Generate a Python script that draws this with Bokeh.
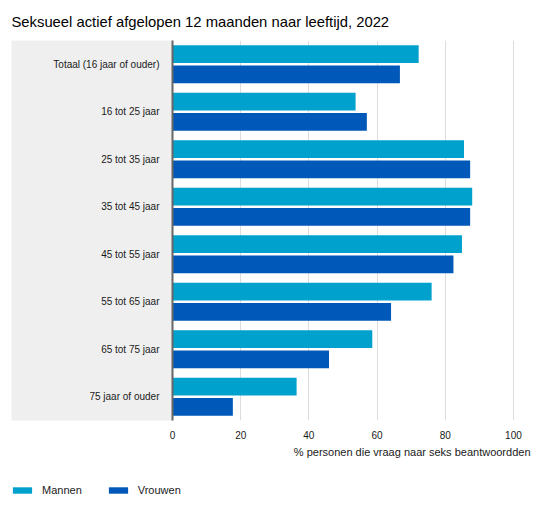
from bokeh.plotting import figure
from bokeh.layouts import column
from bokeh.models import (FactorRange, Range1d, FixedTicker, Title,
                          Legend, LegendItem, ColumnDataSource)
from bokeh.transform import dodge
from bokeh.embed import file_html
from bokeh.resources import INLINE

categories = ["Totaal (16 jaar of ouder)", "16 tot 25 jaar", "25 tot 35 jaar",
              "35 tot 45 jaar", "45 tot 55 jaar", "55 tot 65 jaar",
              "65 tot 75 jaar", "75 jaar of ouder"]
mannen = [72.2, 53.7, 85.5, 87.9, 84.9, 76.0, 58.6, 36.4]
vrouwen = [66.7, 57.0, 87.3, 87.3, 82.4, 64.1, 45.9, 17.7]
x_ticks = [0, 20, 40, 60, 80, 100]
series_names = ["Mannen", "Vrouwen"]
title_text = "Seksueel actief afgelopen 12 maanden naar leeftijd, 2022"
x_label = "% personen die vraag naar seks beantwoordden"

FONT = "Liberation Sans"
C_M = "#00a1cd"
C_V = "#0058b8"
PANEL = "#efefef"

src = ColumnDataSource(dict(cat=categories, m=mannen, v=vrouwen))

p = figure(frame_width=358, frame_height=380,
           y_range=FactorRange(factors=list(reversed(categories)), range_padding=0),
           x_range=Range1d(0, 105),
           output_backend="svg", toolbar_location=None,
           min_border_left=172, min_border_right=20,
           min_border_top=40, min_border_bottom=50,
           title=title_text)
p.outline_line_color = None
p.background_fill_color = "white"
p.border_fill_color = "white"

p.title.text_font = FONT
p.title.text_font_size = "14.8px"
p.title.text_font_style = "normal"
p.title.text_color = "#000000"
p.title.align = "left"
p.title.offset = -161
p.title.standoff = 21

r1 = p.hbar(y=dodge("cat", 0.215, range=p.y_range), right="m", left=0,
            height=0.375, source=src, fill_color=C_M, line_color=None)
r2 = p.hbar(y=dodge("cat", -0.215, range=p.y_range), right="v", left=0,
            height=0.375, source=src, fill_color=C_V, line_color=None)

# x axis
p.xaxis.ticker = FixedTicker(ticks=x_ticks)
p.xaxis.axis_line_color = None
p.xaxis.major_tick_line_color = None
p.xaxis.minor_tick_line_color = None
p.xaxis.major_tick_out = 0
p.xaxis.major_tick_in = 0
p.xaxis.major_label_standoff = 10
p.xaxis.major_label_text_font = FONT
p.xaxis.major_label_text_font_size = "10px"
p.xaxis.major_label_text_color = "#1a1a1a"

xlab = Title(text=x_label, align="right", text_font=FONT, text_font_size="11px",
             text_font_style="normal", text_color="#1a1a1a", standoff=4)
p.add_layout(xlab, "below")

# y axis
yax = p.yaxis[0]
yax.axis_line_color = "#666666"
yax.axis_line_width = 2
yax.major_tick_line_color = None
yax.minor_tick_line_color = None
yax.major_tick_out = 0
yax.major_tick_in = 0
yax.major_label_standoff = 13
yax.major_label_text_font = FONT
yax.major_label_text_font_size = "10px"
yax.major_label_text_color = "#1a1a1a"
yax.axis_label = "\u00a0"
yax.axis_label_text_font_size = "10px"
yax.axis_label_standoff = 25
try:
    yax.background_fill_color = PANEL
    yax.background_fill_alpha = 1.0
except AttributeError:
    pass

p.xgrid.ticker = FixedTicker(ticks=x_ticks)
p.xgrid.grid_line_color = "#dddddd"
p.ygrid.grid_line_color = None

# legend strip below the chart
lg = figure(frame_width=550, frame_height=30, x_range=Range1d(0, 1),
            y_range=Range1d(0, 1), output_backend="svg", toolbar_location=None,
            x_axis_location=None, y_axis_location=None,
            min_border_left=0, min_border_right=0, min_border_top=0,
            min_border_bottom=0)
lg.outline_line_color = None
lg.grid.visible = False
proxy = ColumnDataSource(dict(y=[-50], r=[1]))
g1 = lg.hbar(y="y", right="r", left=0, height=1, source=proxy,
             fill_color=C_M, line_color=None)
g2 = lg.hbar(y="y", right="r", left=0, height=1, source=proxy,
             fill_color=C_V, line_color=None)
legend = Legend(items=[LegendItem(label=series_names[0], renderers=[g1]),
                       LegendItem(label=series_names[1], renderers=[g2])],
                orientation="horizontal", location=(10, 4),
                glyph_width=24, glyph_height=8, label_height=12,
                label_standoff=8, spacing=24, padding=0, margin=0,
                border_line_color=None, background_fill_alpha=0,
                label_text_font=FONT, label_text_font_size="11px",
                label_text_color="#1a1a1a")
lg.add_layout(legend)

layout = column(p, lg, spacing=0)
open("out.html", "w").write(file_html(layout, INLINE))
